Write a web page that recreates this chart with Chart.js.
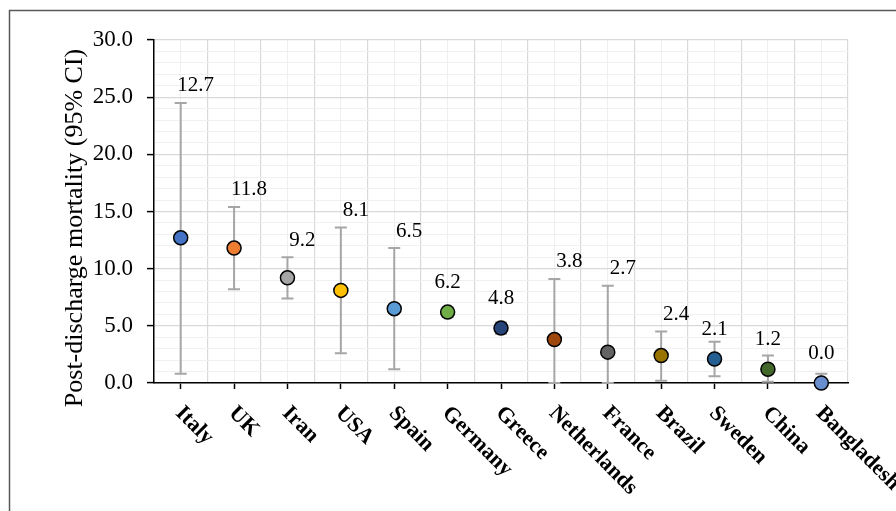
<!DOCTYPE html>
<html>
<head>
<meta charset="utf-8">
<script src="https://cdn.jsdelivr.net/npm/chart.js@4.4.1/dist/chart.umd.min.js"></script>
<style>
  body { margin: 0; background: #fff; }
  #wrap { width: 896px; height: 511px; position: relative; }
</style>
</head>
<body>
<div id="wrap"><canvas id="mortality-chart"></canvas></div>
<script>
const countries = ['Italy', 'UK', 'Iran', 'USA', 'Spain', 'Germany', 'Greece', 'Netherlands', 'France', 'Brazil', 'Sweden', 'China', 'Bangladesh'];
const mortality = [12.7, 11.8, 9.2, 8.1, 6.5, 6.2, 4.8, 3.8, 2.7, 2.4, 2.1, 1.2, 0.0];
const ciLow = [0.8, 8.2, 7.4, 2.6, 1.2, 5.8, 4.3, 0.0, 0.0, 0.2, 0.6, 0.1, 0.0];
const ciHigh = [24.5, 15.4, 11.0, 13.6, 11.8, 6.6, 5.3, 9.1, 8.5, 4.5, 3.6, 2.4, 0.8];
const markerColors = ['#4472C4', '#ED7D31', '#A5A5A5', '#FFC000', '#5B9BD5', '#70AD47', '#264478', '#9E480E', '#636363', '#997300', '#255E91', '#43682B', '#698ED0'];
const yTitle = 'Post-discharge mortality (95% CI)';
const yMin = 0, yMax = 30, yMajor = 5;

const serif = "'Liberation Serif', 'Times New Roman', serif";

// error bars go under the markers
const errorBars = {
    id: 'errorBars',
    beforeDatasetsDraw(chart) {
        const c = chart.ctx, xs = chart.scales.x, ys = chart.scales.y;
        c.save();
        c.strokeStyle = '#a6a6a6';
        c.lineWidth = 2;
        ciHigh.forEach(function (hi, i) {
            const x = xs.getPixelForValue(i);
            const yh = ys.getPixelForValue(hi);
            const yl = ys.getPixelForValue(ciLow[i]);
            c.beginPath();
            c.moveTo(x, yh); c.lineTo(x, yl);
            c.moveTo(x - 6, yh); c.lineTo(x + 6, yh);
            c.moveTo(x - 6, yl); c.lineTo(x + 6, yl);
            c.stroke();
        });
        c.restore();
    }
};

// value labels: above the point, moved beside the error bar when it is in the way
const valueLabels = {
    id: 'valueLabels',
    afterDatasetsDraw(chart) {
        const c = chart.ctx, xs = chart.scales.x, ys = chart.scales.y;
        c.save();
        c.font = '21px ' + serif;
        c.fillStyle = '#000';
        c.textAlign = 'center';
        c.textBaseline = 'middle';
        mortality.forEach(function (v, i) {
            const x = xs.getPixelForValue(i);
            const yp = ys.getPixelForValue(v);
            const yh = ys.getPixelForValue(ciHigh[i]);
            if (yh < yp - 18) {
                c.fillText(v.toFixed(1), x + 15, yh - 17);
            } else {
                c.fillText(v.toFixed(1), x, yp - 30);
            }
        });
        c.restore();
    }
};

// slanted category names, y title + outer frame
const slantLabels = {
    id: 'slantLabels',
    afterDraw(chart) {
        const c = chart.ctx, xs = chart.scales.x;
        c.save();
        c.font = 'bold 22px ' + serif;
        c.fillStyle = '#000';
        c.textAlign = 'left';
        c.textBaseline = 'middle';
        countries.forEach(function (name, i) {
            const x = xs.getPixelForValue(i);
            c.save();
            c.translate(x - 2, 410);
            c.rotate(Math.PI / 4);
            c.fillText(name, 0, 0);
            c.restore();
        });

        c.save();
        c.font = '26px ' + serif;
        c.textAlign = 'center';
        c.translate(75, 228);
        c.rotate(-Math.PI / 2);
        c.fillText(yTitle, 0, 0);
        c.restore();

        c.strokeStyle = '#595959';
        c.lineWidth = 1.5;
        c.beginPath();
        c.moveTo(9.5, 520);
        c.lineTo(9.5, 10.5);
        c.lineTo(900, 10.5);
        c.stroke();
        c.restore();
    }
};

const ctx = document.getElementById('mortality-chart').getContext('2d');
const chart = new Chart(ctx, {
    type: 'line',
    data: {
        labels: countries,
        datasets: [{
            label: 'Post-discharge mortality',
            data: mortality,
            showLine: false,
            clip: false,
            pointRadius: 7,
            pointHoverRadius: 7,
            pointBorderWidth: 1.5,
            pointBorderColor: '#000',
            pointBackgroundColor: markerColors
        }]
    },
    options: {
        responsive: true,
        maintainAspectRatio: false,
        animation: false,
        layout: { padding: { top: 40, right: 48, bottom: 0, left: 0 } },
        plugins: {
            legend: { display: false },
            tooltip: { enabled: false }
        },
        scales: {
            x: {
                offset: true,
                grid: { offset: false, color: '#efefef', lineWidth: 1, tickColor: '#000', tickLength: 6, tickWidth: 1.5 },
                border: { color: '#000', width: 1.5 },
                ticks: { display: false },
                afterFit: function (s) { s.height = 128; }
            },
            x2: {
                type: 'category',
                position: 'top',
                offset: true,
                grid: { offset: true, color: '#d9d9d9', lineWidth: 1.2, drawTicks: false },
                border: { display: false },
                ticks: { display: false },
                afterFit: function (s) { s.height = 0; }
            },
            y: {
                min: yMin,
                max: yMax,
                grid: {
                    color: function (c) { return c.tick.value % yMajor === 0 ? '#d9d9d9' : '#f0f0f0'; },
                    lineWidth: function (c) { return c.tick.value % yMajor === 0 ? 1.2 : 1; },
                    tickColor: function (c) { return c.tick.value % yMajor === 0 ? '#000' : 'rgba(0,0,0,0)'; },
                    tickLength: 7,
                    tickWidth: 1.5
                },
                border: { color: '#000', width: 1.5 },
                ticks: {
                    stepSize: 1,
                    autoSkip: false,
                    padding: 14,
                    color: '#000',
                    font: { family: serif, size: 23 },
                    callback: function (v) { return v % yMajor === 0 ? v.toFixed(1) : ''; }
                },
                afterFit: function (s) { s.width = 154; }
            }
        }
    },
    plugins: [errorBars, valueLabels, slantLabels]
});
</script>
</body>
</html>
